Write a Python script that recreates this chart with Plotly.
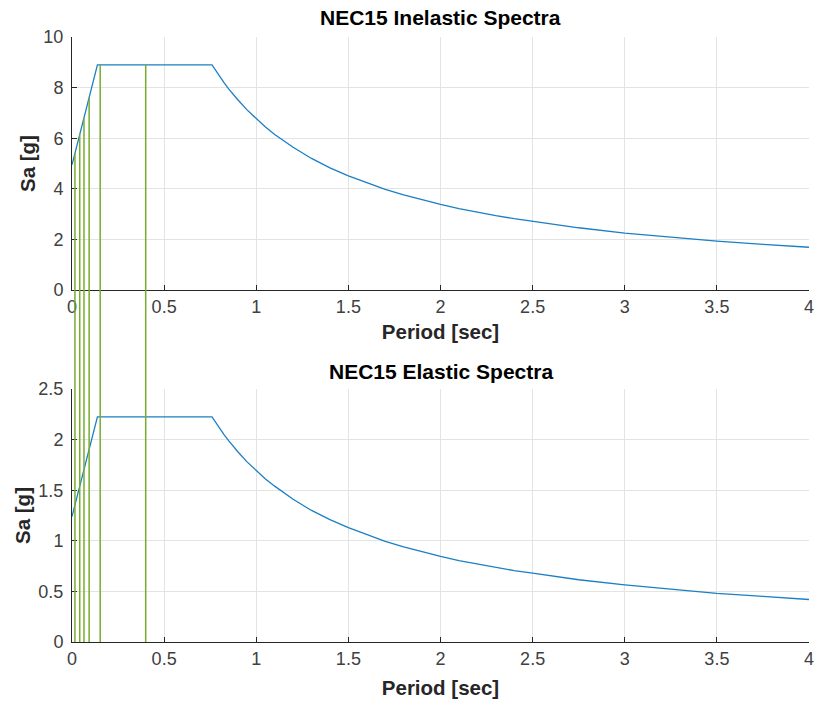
import plotly.graph_objects as go
from plotly.subplots import make_subplots

# Data
period = [0.0, 0.138, 0.76, 0.78, 0.8, 0.825, 0.85, 0.875, 0.9, 0.95, 1.0, 1.05, 1.1, 1.2, 1.3,
          1.4, 1.5, 1.6, 1.7, 1.8, 1.9, 2.0, 2.1, 2.2, 2.3, 2.4, 2.5, 2.75, 3.0, 3.25, 3.5, 3.75, 4.0]
sa_inelastic = [4.95, 8.9, 8.9, 8.67, 8.45, 8.20, 7.95, 7.73, 7.52, 7.12, 6.76, 6.44, 6.15, 5.64, 5.20,
                4.83, 4.51, 4.23, 3.98, 3.76, 3.56, 3.38, 3.22, 3.07, 2.94, 2.82, 2.71, 2.46, 2.25,
                2.08, 1.93, 1.80, 1.69]
sa_elastic = [1.24, 2.225, 2.225, 2.168, 2.11, 2.05, 1.99, 1.93, 1.88, 1.78, 1.69, 1.61, 1.54, 1.41, 1.30,
              1.21, 1.13, 1.06, 0.995, 0.94, 0.89, 0.845, 0.805, 0.77, 0.735, 0.705, 0.68, 0.615, 0.565,
              0.52, 0.48, 0.45, 0.42]
mode_periods = [0.016, 0.042, 0.065, 0.093, 0.153, 0.40]
mode_sa_inelastic = [5.41, 6.15, 6.80, 7.60, 8.9, 8.9]

titles = ["NEC15 Inelastic Spectra", "NEC15 Elastic Spectra"]
x_label = "Period [sec]"
y_label = "Sa [g]"
top_range = [0, 10]
bot_range = [0, 2.5]

BLUE = "#1a7fc4"
GREEN = "#77AC30"
AXC = "#262626"
GRID = "#e3e3e3"
FONT = "Liberation Sans, Arial, sans-serif"

top_dom = [0.5818, 1.0]
bot_dom = [0.0, 0.4182]

fig = make_subplots(rows=2, cols=1)
fig.add_trace(go.Scatter(x=period, y=sa_inelastic, mode="lines",
                         line=dict(color=BLUE, width=1.3), showlegend=False), row=1, col=1)
fig.add_trace(go.Scatter(x=period, y=sa_elastic, mode="lines",
                         line=dict(color=BLUE, width=1.3), showlegend=False), row=2, col=1)

# green vertical lines: from each mode's inelastic Sa (top axes) down to y=0 in bottom axes
for t, s in zip(mode_periods, mode_sa_inelastic):
    ytop = top_dom[0] + (s - top_range[0]) / (top_range[1] - top_range[0]) * (top_dom[1] - top_dom[0])
    fig.add_shape(type="line", xref="x", yref="paper", x0=t, x1=t, y0=bot_dom[0], y1=ytop,
                  line=dict(color=GREEN, width=1.5), layer="above")

axis_common = dict(showgrid=True, gridcolor=GRID, gridwidth=1, showline=True, linecolor=AXC,
                   linewidth=1, ticks="inside", ticklen=5, tickcolor=AXC, zeroline=False,
                   tickfont=dict(family=FONT, size=18, color="#404040"), mirror=False,
                   automargin=False)

title_font = dict(family=FONT, size=20.5, color=AXC)
fig.update_xaxes(range=[0, 4], dtick=0.5, domain=[0, 1], tickformat="~g", **axis_common)
fig.update_yaxes(ticklabelstandoff=4, **axis_common)
fig.update_xaxes(title=dict(text="<b>%s</b>" % x_label, font=title_font, standoff=9), row=1, col=1)
fig.update_xaxes(title=dict(text="<b>%s</b>" % x_label, font=title_font, standoff=13), row=2, col=1)
fig.update_yaxes(range=top_range, dtick=2, domain=top_dom,
                 title=dict(text="<b>%s</b>" % y_label, font=title_font, standoff=2),
                 row=1, col=1)
fig.update_yaxes(range=bot_range, dtick=0.5, domain=bot_dom,
                 title=dict(text="<b>%s</b>" % y_label, font=title_font, standoff=2),
                 row=2, col=1)

fig.add_annotation(text="<b>%s</b>" % titles[0], xref="paper", yref="paper", x=0.5, y=top_dom[1],
                   yanchor="bottom", yshift=6, showarrow=False,
                   font=dict(family=FONT, size=21, color="#000000"))
fig.add_annotation(text="<b>%s</b>" % titles[1], xref="paper", yref="paper", x=0.5, y=bot_dom[1],
                   yanchor="bottom", yshift=4, showarrow=False,
                   font=dict(family=FONT, size=21, color="#000000"))

fig.update_layout(width=816, height=704, margin=dict(l=72, r=7, t=37, b=62),
                  paper_bgcolor="white", plot_bgcolor="white",
                  font=dict(family=FONT, color=AXC))

fig.write_html("out.html", config={"displayModeBar": False},
               post_script="document.body.style.margin='0';")
